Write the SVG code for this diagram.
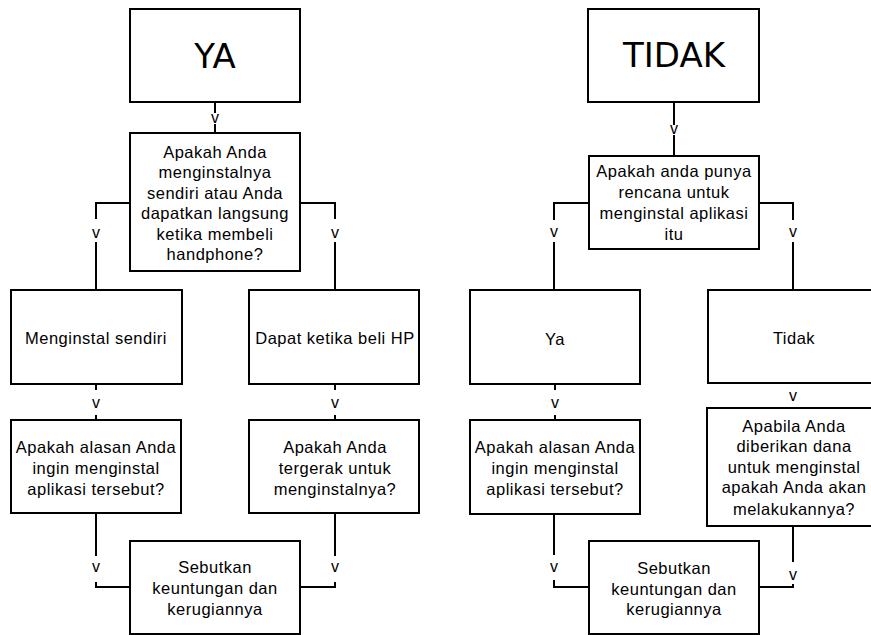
<svg xmlns="http://www.w3.org/2000/svg" width="871" height="635" viewBox="0 0 871 635">
<style>
.box{fill:#fff;stroke:#000;stroke-width:2}
.big{font-family:"DejaVu Sans",sans-serif;font-size:34px;fill:#000;text-anchor:middle}
.t{font-family:"Liberation Sans",Arial,sans-serif;font-size:16.5px;letter-spacing:0.5px;fill:#000;text-anchor:middle}
.c{fill:none;stroke:#000;stroke-width:2}
.v{font-family:"Liberation Sans",Arial,sans-serif;font-size:16px;fill:#000;text-anchor:middle}
</style>
<rect width="871" height="635" fill="#fff"/>
<g id="connectors">
<path class="c" d="M215 102V113M215 124V133"/>
<path class="c" d="M130 203H96V219M96 242V290"/>
<path class="c" d="M300 203H335V219M335 242V290"/>
<path class="c" d="M96 384V390M96 415V420"/>
<path class="c" d="M335 384V390M335 415V420"/>
<path class="c" d="M96 513V556M96 582V587H130"/>
<path class="c" d="M335 513V556M335 582V587H300"/>
<path class="c" d="M674 102V125M674 135V156"/>
<path class="c" d="M589 203H554V220M554 242V290"/>
<path class="c" d="M759 203H793V220M793 242V290"/>
<path class="c" d="M555 384V390M555 415V420"/>
<path class="c" d="M554 514V555M554 580V587H589"/>
<path class="c" d="M793 526V562M793 584V587H759"/>
<text class="v" x="215" y="123">v</text>
<text class="v" x="96" y="238">v</text>
<text class="v" x="335" y="238">v</text>
<text class="v" x="96" y="408">v</text>
<text class="v" x="335" y="408">v</text>
<text class="v" x="96" y="572">v</text>
<text class="v" x="335" y="572">v</text>
<text class="v" x="674" y="134">v</text>
<text class="v" x="554" y="237">v</text>
<text class="v" x="793" y="237">v</text>
<text class="v" x="555" y="408">v</text>
<text class="v" x="793" y="401">v</text>
<text class="v" x="554" y="572">v</text>
<text class="v" x="793" y="580">v</text>
</g>
<g id="ya">
<rect class="box" x="130" y="9" width="170" height="93"/>
<text class="big" x="215" y="68">YA</text>
</g>
<g id="tidak">
<rect class="box" x="588" y="9" width="171" height="93"/>
<text class="big" x="674" y="67">TIDAK</text>
</g>
<g id="q1">
<rect class="box" x="130" y="133" width="170" height="138"/>
<text class="t" x="215" y="158">Apakah Anda</text>
<text class="t" x="215" y="178">menginstalnya</text>
<text class="t" x="215" y="199">sendiri atau Anda</text>
<text class="t" x="215" y="219">dapatkan langsung</text>
<text class="t" x="215" y="240">ketika membeli</text>
<text class="t" x="215" y="260">handphone?</text>
</g>
<g id="sendiri">
<rect class="box" x="11" y="290" width="171" height="94"/>
<text class="t" x="96" y="344">Menginstal sendiri</text>
</g>
<g id="dapat">
<rect class="box" x="249" y="290" width="170" height="94"/>
<text class="t" x="335" y="344">Dapat ketika beli HP</text>
</g>
<g id="alasan1">
<rect class="box" x="11" y="420" width="170" height="93"/>
<text class="t" x="96" y="453">Apakah alasan Anda</text>
<text class="t" x="96" y="474">ingin menginstal</text>
<text class="t" x="96" y="495">aplikasi tersebut?</text>
</g>
<g id="tergerak">
<rect class="box" x="249" y="420" width="170" height="93"/>
<text class="t" x="335" y="453">Apakah Anda</text>
<text class="t" x="335" y="474">tergerak untuk</text>
<text class="t" x="335" y="495">menginstalnya?</text>
</g>
<g id="sebutkan1">
<rect class="box" x="130" y="541" width="170" height="93"/>
<text class="t" x="215" y="573">Sebutkan</text>
<text class="t" x="215" y="594">keuntungan dan</text>
<text class="t" x="215" y="615">kerugiannya</text>
</g>
<g id="q2">
<rect class="box" x="589" y="156" width="170" height="93"/>
<text class="t" x="674" y="177">Apakah anda punya</text>
<text class="t" x="674" y="198">rencana untuk</text>
<text class="t" x="674" y="219">menginstal aplikasi</text>
<text class="t" x="674" y="240">itu</text>
</g>
<g id="ya2">
<rect class="box" x="470" y="290" width="170" height="94"/>
<text class="t" x="555" y="345">Ya</text>
</g>
<g id="tidak2">
<rect class="box" x="708" y="290" width="170" height="93"/>
<text class="t" x="794" y="344">Tidak</text>
</g>
<g id="alasan2">
<rect class="box" x="470" y="420" width="170" height="94"/>
<text class="t" x="555" y="453">Apakah alasan Anda</text>
<text class="t" x="555" y="474">ingin menginstal</text>
<text class="t" x="555" y="495">aplikasi tersebut?</text>
</g>
<g id="apabila">
<rect class="box" x="707" y="408" width="170" height="118"/>
<text class="t" x="794" y="432">Apabila Anda</text>
<text class="t" x="794" y="452">diberikan dana</text>
<text class="t" x="794" y="473">untuk menginstal</text>
<text class="t" x="794" y="493">apakah Anda akan</text>
<text class="t" x="794" y="515">melakukannya?</text>
</g>
<g id="sebutkan2">
<rect class="box" x="589" y="541" width="170" height="93"/>
<text class="t" x="674" y="574">Sebutkan</text>
<text class="t" x="674" y="595">keuntungan dan</text>
<text class="t" x="674" y="615">kerugiannya</text>
</g>
</svg>
